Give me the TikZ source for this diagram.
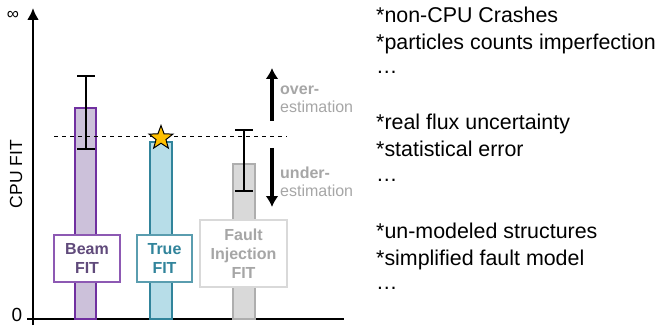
\documentclass[tikz,border=0pt]{standalone}
\usepackage{fontspec}
\setmainfont{Liberation Sans}
\usetikzlibrary{arrows.meta, shapes.geometric, positioning}
\definecolor{beamlila}{RGB}{112,48,160}
\definecolor{beamfuell}{RGB}{204,193,218}
\definecolor{beamschrift}{RGB}{96,74,123}
\definecolor{truetuerkis}{RGB}{49,132,155}
\definecolor{truefuell}{RGB}{183,221,232}
\definecolor{faultgrau}{RGB}{166,166,166}
\definecolor{faultfuell}{RGB}{217,217,217}
\definecolor{sterngelb}{RGB}{255,192,0}

\begin{document}
\begin{tikzpicture}[x=1pt, y=-1pt,
		>=latex,   %Voreinstellung für Pfeilspitzen
		balken/.style={line width=1.8pt},
		etikett/.style={draw, fill=white, line width=1.2pt, align=center, inner sep=0pt,
			font=\fontsize{16}{19}\selectfont\bfseries},
		fehler/.style={line width=2pt, {Bar[width=18pt]}-{Bar[width=18pt]}},
		pfeil/.style={line width=3.6pt, -{Latex[length=11pt,width=13pt]}},
		hinweis/.style={anchor=west, inner sep=0pt, text=faultgrau, align=left,
			font=\fontsize{16}{18}\selectfont},
		liste/.style={anchor=base west, inner sep=0pt, font=\fontsize{21.4}{26}\selectfont}]
		\useasboundingbox (0,0) rectangle (657,329);
		% Achsen zeichnen
		\coordinate (ursprung) at (33,319);
		\coordinate (yspitze) at (33,8);
		\coordinate (yfuss) at (33,325);
		\coordinate (xanfang) at (27,319);
		\coordinate (xende) at (344,319);
		\draw[line width=2.8pt] (xanfang) -- (xende);
		\draw[line width=2.8pt, -{Latex[length=12pt,width=12pt]}] (yfuss) -- (yspitze);
		% Achsen beschriften
		\node[font=\fontsize{17}{17}\selectfont] (unendlich) at (13,15) {∞};
		\node[font=\fontsize{19}{19}\selectfont] (null) at (17,315) {0};
		\node[rotate=90, font=\fontsize{17.5}{20}\selectfont] (achsenname) at (16,174) {CPU FIT};
		%Balken zeichnen
		\draw[balken, draw=beamlila, fill=beamfuell] (75,319) rectangle (96,108);
		\draw[balken, draw=truetuerkis, fill=truefuell] (150,319) rectangle (172,142);
		\draw[balken, draw=faultfuell!80!black, fill=faultfuell] (233,319) rectangle (255,164);
		% Referenzlinie
		\coordinate (linielinks) at (54,136);
		\coordinate (linierechts) at (287,136);
		\draw[dash pattern=on 4pt off 4pt, line width=0.9pt] (linielinks) -- (linierechts);
		% Fehlerbalken
		\coordinate (beamoben) at (86,75);
		\coordinate (beamunten) at (86,150);
		\coordinate (faultoben) at (244,129);
		\coordinate (faultunten) at (244,192);
		\draw[fehler] (beamoben) -- (beamunten);
		\draw[fehler] (faultoben) -- (faultunten);
		\node[star, star points=5, star point ratio=2.4, draw=black, fill=sterngelb,
			line width=1pt, minimum size=25pt, inner sep=0pt] (stern) at (161,138) {};
		%Beschriftung der Balken
		\node[etikett, draw=beamlila!80, text=beamschrift, minimum width=66pt, minimum height=47pt]
			(beam) at (87,258.5) {Beam\\FIT};
		\node[etikett, draw=truetuerkis!80, text=truetuerkis, minimum width=55pt, minimum height=47pt]
			(true) at (164.5,258.5) {True\\FIT};
		\node[etikett, draw=faultfuell, text=faultgrau, minimum width=87pt, minimum height=67pt]
			(fault) at (243.5,253.5) {Fault\\Injection\\FIT};
		% Über- und Unterschätzung
		\coordinate (oben1) at (272,121);
		\coordinate (oben2) at (272,68);
		\coordinate (unten1) at (272,148);
		\coordinate (unten2) at (272,207);
		\draw[pfeil] (oben1) -- (oben2);
		\draw[pfeil] (unten1) -- (unten2);
		\node[hinweis] (ueber) at (280,99) {\textbf{over-}\\estimation};
		\node[hinweis] (unter) at (280,182) {\textbf{under-}\\estimation};
		% Ursachen rechts
		\foreach \name/\y/\txt in {a1/23/*non-CPU Crashes, a2/50/*particles counts imperfection, a3/74/…,
				b1/130/*real flux uncertainty, b2/157/*statistical error, b3/182/…,
				c1/238/*un-modeled structures, c2/265/*simplified fault model, c3/289/…}
			\node[liste] (\name) at (376,\y) {\txt};
	\end{tikzpicture}
\end{document}
